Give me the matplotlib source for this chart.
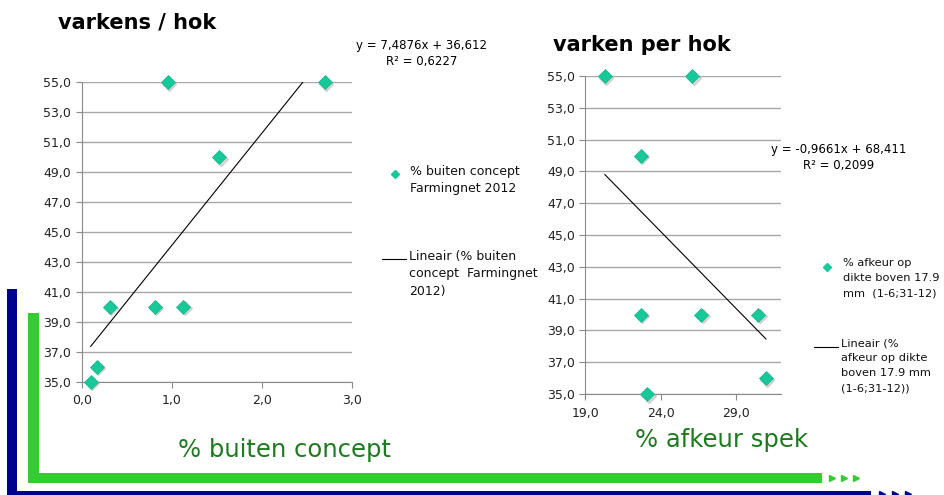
import matplotlib
matplotlib.use('Agg')
import matplotlib.pyplot as plt
from matplotlib.ticker import FuncFormatter
from matplotlib.lines import Line2D
from matplotlib.patches import Rectangle
import matplotlib.transforms as mtransforms
import numpy as np

# links: varkens per hok tegen % buiten concept
buiten_x = [2.70, 0.955, 1.53, 0.31, 0.81, 1.13, 0.17, 0.10]
buiten_y = [55, 55, 50, 40, 40, 40, 36, 35]
buiten_fit = (7.4876, 36.612)
buiten_r2 = 0.6227
buiten_xticks = [0, 1, 2, 3]

# rechts: varkens per hok tegen % afkeur spek
afkeur_x = [20.3, 26.1, 22.7, 22.7, 26.7, 30.5, 31.0, 23.1]
afkeur_y = [55, 55, 50, 40, 40, 40, 36, 35]
afkeur_fit = (-0.9661, 68.411)
afkeur_r2 = 0.2099
afkeur_xticks = [19, 24, 29]

y_ticks = [35, 37, 39, 41, 43, 45, 47, 49, 51, 53, 55]

W, H = 945, 495
MARKER = '#17c99a'
GRID = '#a8a8a8'
SPINE = '#8a8a8a'
LABEL_GREEN = '#1e7a1e'

comma = FuncFormatter(lambda v, p: f'{v:.1f}'.replace('.', ','))


def box(x0, y0, x1, y1):
    # pixel box (top-left origin) -> figure fraction
    return [x0 / W, 1 - y1 / H, (x1 - x0) / W, (y1 - y0) / H]


def setup_axes(ax, xlim, xticks):
    ax.set_xlim(*xlim)
    ax.set_ylim(35, 55)
    ax.set_yticks(y_ticks)
    ax.set_xticks(xticks)
    ax.xaxis.set_major_formatter(comma)
    ax.yaxis.set_major_formatter(comma)
    ax.grid(axis='y', color=GRID, linewidth=1)
    ax.set_axisbelow(True)
    for s in ['top', 'right']:
        ax.spines[s].set_visible(False)
    for s in ['left', 'bottom']:
        ax.spines[s].set_color(SPINE)
    ax.tick_params(axis='both', colors=SPINE, labelcolor='#222222',
                   labelsize=9, length=4)
    ax.tick_params(axis='x', pad=5)
    ax.patch.set_alpha(0)


def scatter_with_trend(ax, xs, ys, fit):
    shadow = ax.transData + mtransforms.ScaledTranslation(
        1.5 / 100, -1.5 / 100, ax.figure.dpi_scale_trans)
    ax.plot(xs, ys, linestyle='none', marker='D', markersize=6.8,
            color='#9a9a9a', alpha=0.35, zorder=3, transform=shadow,
            clip_on=False)
    ax.plot(xs, ys, linestyle='none', marker='D', markersize=6.8,
            color=MARKER, markeredgecolor='#12b58a', markeredgewidth=0.5,
            zorder=4, clip_on=False)
    xx = np.array([min(xs), max(xs)])
    ax.plot(xx, fit[0] * xx + fit[1], color='black', linewidth=0.8, zorder=5)


def legend_block(fig, mx, my, lx, ly, text_x, label1, label2, fs=9, ls=1.45):
    fig.add_artist(Line2D([mx / W], [1 - my / H], marker='D', markersize=4.5,
                          color=MARKER, linestyle='none'))
    fig.text(text_x / W, 1 - (my - 9) / H, label1, fontsize=fs, va='top',
             ha='left', linespacing=ls, color='#111111')
    fig.add_artist(Line2D([lx[0] / W, lx[1] / W], [1 - ly / H, 1 - ly / H],
                          color='black', linewidth=0.8))
    fig.text((lx[1] + 3) / W, 1 - (ly - 9) / H, label2, fontsize=fs,
             va='top', ha='left', linespacing=ls, color='#111111')


fig = plt.figure(figsize=(W / 100, H / 100), dpi=100, facecolor='white')

# decoratief kader (blauw en groen)
deco = fig.add_axes([0, 0, 1, 1], zorder=0)
deco.set_xlim(0, W)
deco.set_ylim(H, 0)
deco.axis('off')
deco.add_patch(Rectangle((7, 289), 10, 206, color='#00008f', lw=0))
deco.add_patch(Rectangle((7, 491), 864, 6, color='#00008f', lw=0))
deco.plot([882, 895, 908], [494, 494, 494], linestyle='none', marker='>',
          markersize=5, color='#00008f', clip_on=False)
deco.add_patch(Rectangle((28, 313), 11, 170, color='#33cc33', lw=0))
deco.add_patch(Rectangle((28, 473), 794, 10, color='#33cc33', lw=0))
deco.plot([832, 844, 856], [478, 478, 478], linestyle='none', marker='>',
          markersize=5, color='#33cc33')

# linker grafiek
ax1 = fig.add_axes(box(81.7, 82.3, 351.7, 381.7), zorder=2)
setup_axes(ax1, (0, 3), buiten_xticks)
scatter_with_trend(ax1, buiten_x, buiten_y, buiten_fit)

# rechter grafiek
ax2 = fig.add_axes(box(585.3, 76, 781, 394), zorder=2)
setup_axes(ax2, (19, 32), afkeur_xticks)
scatter_with_trend(ax2, afkeur_x, afkeur_y, afkeur_fit)

# titels
fig.text(58 / W, 1 - 23 / H, 'varkens / hok', fontsize=15, fontweight='bold',
         va='center', ha='left')
fig.text(553 / W, 1 - 45 / H, 'varken per hok', fontsize=15,
         fontweight='bold', va='center', ha='left')


def eq_text(a, b, r2):
    sign = '+' if b >= 0 else '-'
    s = f'y = {a:.4f}x {sign} {abs(b):.3f}\nR² = {r2:.4f}'
    return s.replace('.', ',')


fig.text(422 / W, 1 - 54 / H, eq_text(*buiten_fit, buiten_r2), fontsize=8.5,
         ha='center', va='center', multialignment='center', linespacing=1.3)
fig.text(839 / W, 1 - 157 / H, eq_text(*afkeur_fit, afkeur_r2), fontsize=8.5,
         ha='center', va='center', multialignment='center', linespacing=1.3)

legend_block(fig, 395, 174, (382, 406), 259, 410,
             '% buiten concept\nFarmingnet 2012',
             'Lineair (% buiten\nconcept  Farmingnet\n2012)')
legend_block(fig, 827, 267, (814, 838), 347, 843,
             '% afkeur op\ndikte boven 17.9\nmm  (1-6;31-12)',
             'Lineair (%\nafkeur op dikte\nboven 17.9 mm\n(1-6;31-12))',
             fs=8.2, ls=1.65)

# as-titels in groen
fig.text(285 / W, 1 - 450 / H, '% buiten concept', fontsize=17.5,
         color=LABEL_GREEN, ha='center', va='center')
fig.text(722 / W, 1 - 440 / H, '% afkeur spek', fontsize=17.5,
         color=LABEL_GREEN, ha='center', va='center')

fig.savefig('out.png', dpi=100, facecolor='white')
plt.close(fig)
